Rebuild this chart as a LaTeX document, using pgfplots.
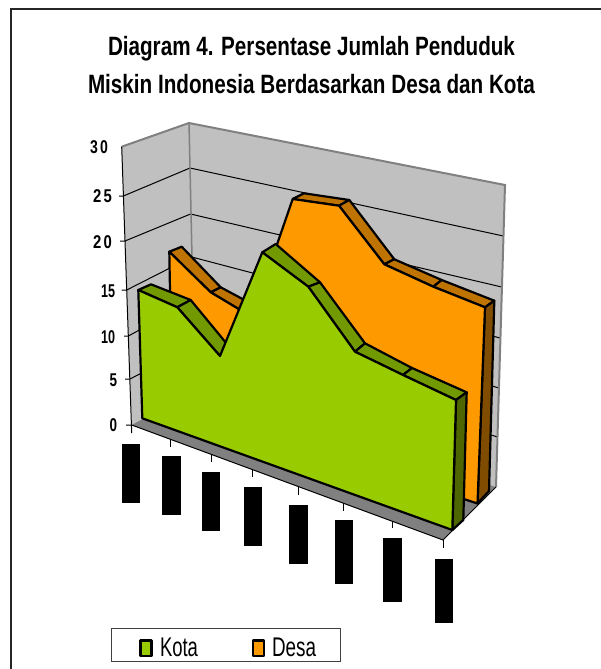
\documentclass[border=0pt]{standalone}
\usepackage{fontspec}
\setmainfont{Liberation Sans}
\usepackage{pgfplots}
\pgfplotsset{compat=1.18}

\definecolor{wall}{HTML}{C0C0C0}
\definecolor{floorgray}{HTML}{808080}
\definecolor{kotaF}{HTML}{99CC00}
\definecolor{kotaT}{HTML}{739900}
\definecolor{kotaS}{HTML}{4D6600}
\definecolor{desaF}{HTML}{FF9900}
\definecolor{desaT}{HTML}{BF7300}
\definecolor{desaS}{HTML}{804D00}

\tikzset{
  solid3d/.style={line width=2.2bp, draw=black, line join=round},
  grid3d/.style={line width=1bp, draw=black},
  txt/.style={inner sep=0pt, outer sep=0pt, text=black},
}

% text squeezed to the width it has in the picture: width, font size, text
\newcommand{\fit}[3]{\resizebox{#1bp}{\height}{\fontsize{#2bp}{#2bp}\selectfont #3}}

\begin{document}
\begin{tikzpicture}
\begin{axis}[
  scale only axis, width=601bp, height=669bp,
  xmin=0, xmax=601, ymin=0, ymax=669, y dir=reverse,
  axis lines=none, no markers,
]
% holds the page at the full size
\addplot[draw=none] coordinates {(0,0) (601,0) (601,669) (0,669)} --cycle;

% frame
\addplot[line width=2.5bp, draw=black!85] coordinates {(11,669) (11,9) (601,9)};

% walls and floor
\addplot[fill=wall, draw=none] coordinates {(121.7,146.7) (189,123) (195,390) (131.7,425)} --cycle;
\addplot[fill=wall, draw=none] coordinates {(189,123) (505,185) (496,487) (195,390)} --cycle;
\addplot[fill=floorgray, draw=none] coordinates {(131.7,425) (195,390) (496,487) (443,540)} --cycle;

% gridlines, 5 to 25, with their ticks
\addplot[grid3d] coordinates {(119,196) (123.4,196) (190,168) (503.3,236)};
\addplot[grid3d] coordinates {(120,241) (125,241) (190.5,214) (501.7,287)};
\addplot[grid3d] coordinates {(121.7,290) (126.7,290) (191.7,257) (500,338)};
\addplot[grid3d] coordinates {(124,336) (128.4,336) (192.5,301) (499,388)};
\addplot[grid3d] coordinates {(125,379) (130,379) (193.5,346) (497.7,437)};

% wall edges
\addplot[line width=2bp, draw=floorgray] coordinates {(121.7,146.7) (189,123) (505,185) (496,487)};
\addplot[line width=1.5bp, draw=floorgray] coordinates {(189,123) (195,390)};
\addplot[line width=1bp, draw=black] coordinates {(121.7,146.7) (131.7,433)};
\addplot[grid3d] coordinates {(126,425) (131.7,425) (443,540) (496,487)};

% category ticks
\addplot[grid3d] coordinates {(170.7,438.5) (170.7,447)};
\addplot[grid3d] coordinates {(211,454) (211,462)};
\addplot[grid3d] coordinates {(252.7,470) (252.7,477)};
\addplot[grid3d] coordinates {(298,487) (298,495)};
\addplot[grid3d] coordinates {(343,503) (343,511)};
\addplot[grid3d] coordinates {(392,521) (392,528)};
\addplot[grid3d] coordinates {(443,540) (443,548)};

% Desa: top band
\addplot[solid3d, fill=desaT] coordinates {(169.3,251.7) (210.7,292.3) (220.7,287.3) (181.7,246.7)} --cycle;
\addplot[solid3d, fill=desaT] coordinates {(210.7,292.3) (252,317) (263,310) (220.7,287.3)} --cycle;
\addplot[solid3d, fill=desaT] coordinates {(292.7,199) (339,205.7) (349.3,200) (304,193.3)} --cycle;
\addplot[solid3d, fill=desaT] coordinates {(339,205.7) (384.3,264.3) (394.3,259.3) (349.3,200)} --cycle;
\addplot[solid3d, fill=desaT] coordinates {(384.3,264.3) (433.3,286.7) (441.7,280) (394.3,259.3)} --cycle;
\addplot[solid3d, fill=desaT] coordinates {(433.3,286.7) (485,307.3) (494.3,300.7) (441.7,280)} --cycle;
% Desa: end and front
\addplot[solid3d, fill=desaS] coordinates {(485,307.3) (494.3,300.7) (489,491) (477.5,503.5)} --cycle;
\addplot[solid3d, fill=desaF] coordinates {
  (169.3,251.7) (210.7,292.3) (252,317) (292.7,199) (339,205.7)
  (384.3,264.3) (433.3,286.7) (485,307.3) (477.5,503.5) (172,403)} --cycle;

% Kota: top band
\addplot[solid3d, fill=kotaT] coordinates {(138.3,290) (177.3,307.3) (190.7,300) (151,284.3)} --cycle;
\addplot[solid3d, fill=kotaT] coordinates {(177.3,307.3) (220,356) (231.5,349.5) (190.7,300)} --cycle;
\addplot[solid3d, fill=kotaT] coordinates {(262.3,252.3) (308.3,286.7) (320,282.3) (275.7,244)} --cycle;
\addplot[solid3d, fill=kotaT] coordinates {(308.3,286.7) (355,351.7) (365,343.3) (320,282.3)} --cycle;
\addplot[solid3d, fill=kotaT] coordinates {(355,351.7) (403,375) (412,368) (365,343.3)} --cycle;
\addplot[solid3d, fill=kotaT] coordinates {(403,375) (456,400) (466.7,392.3) (412,368)} --cycle;
% Kota: end and front
\addplot[solid3d, fill=kotaS] coordinates {(456,400) (466.7,392.3) (463.3,520) (452.3,530)} --cycle;
\addplot[solid3d, fill=kotaF] coordinates {
  (138.3,290) (177.3,307.3) (220,356) (262.3,252.3) (308.3,286.7)
  (355,351.7) (403,375) (456,400) (452.3,530) (142.3,418.3)} --cycle;

% category labels, which show as black boxes
\addplot[fill=black, draw=none] coordinates {(122,444) (140,444) (140,503) (122,503)} --cycle;
\addplot[fill=black, draw=none] coordinates {(162,456) (181,456) (181,515) (162,515)} --cycle;
\addplot[fill=black, draw=none] coordinates {(202,472) (220,472) (220,531) (202,531)} --cycle;
\addplot[fill=black, draw=none] coordinates {(244,487) (262,487) (262,546) (244,546)} --cycle;
\addplot[fill=black, draw=none] coordinates {(289,505) (308,505) (308,564) (289,564)} --cycle;
\addplot[fill=black, draw=none] coordinates {(335,520) (353,520) (353,584) (335,584)} --cycle;
\addplot[fill=black, draw=none] coordinates {(383,538) (402,538) (402,602) (383,602)} --cycle;
\addplot[fill=black, draw=none] coordinates {(435,559) (453,559) (453,623) (435,623)} --cycle;

% legend
\addplot[line width=1bp, draw=black!75, fill=white] coordinates {(111,628) (340,628) (340,661) (111,661)} --cycle;
\addplot[solid3d, fill=kotaF] coordinates {(140.5,640.5) (151.5,640.5) (151.5,656) (140.5,656)} --cycle;
\addplot[solid3d, fill=desaF] coordinates {(253,640.5) (264,640.5) (264,656) (253,656)} --cycle;
\node[txt, anchor=base west] at (axis cs:160,656) {\fit{38}{27}{Kota}};
\node[txt, anchor=base west] at (axis cs:272,656) {\fit{44}{27}{Desa}};

% title
\node[txt, anchor=base west] at (axis cs:108,56) {\fit{407}{26.5}{\bfseries Diagram 4. Persentase Jumlah Penduduk}};
\node[txt, anchor=base west] at (axis cs:88,94) {\fit{447}{26.5}{\bfseries Miskin Indonesia Berdasarkan Desa dan Kota}};

% value labels
\node[txt, anchor=base east] at (axis cs:108,153.5) {\fit{18}{18.5}{\bfseries 3\,0}};
\node[txt, anchor=base east] at (axis cs:112,202.5) {\fit{19}{18.5}{\bfseries 2\,5}};
\node[txt, anchor=base east] at (axis cs:112,248.5) {\fit{19}{18.5}{\bfseries 2\,0}};
\node[txt, anchor=base east] at (axis cs:115,297.5) {\fit{14}{18.5}{\bfseries 15}};
\node[txt, anchor=base east] at (axis cs:115,343.5) {\fit{14}{18.5}{\bfseries 10}};
\node[txt, anchor=base east] at (axis cs:117,386.5) {\fit{7.5}{18.5}{\bfseries 5}};
\node[txt, anchor=base east] at (axis cs:117,431.5) {\fit{7.5}{18.5}{\bfseries 0}};
\end{axis}
\end{tikzpicture}
\end{document}
